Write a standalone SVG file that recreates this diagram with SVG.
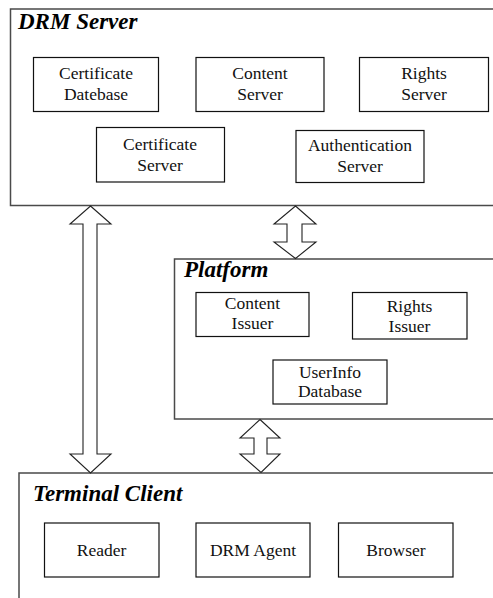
<svg xmlns="http://www.w3.org/2000/svg" width="493" height="598" viewBox="0 0 493 598">
<style>
text{font-family:'Liberation Serif',serif}
.outer{fill:#fff;stroke:#4a4a4a;stroke-width:1.5}
.box{fill:#fff;stroke:#111;stroke-width:1.2}
.title{font-weight:bold;font-style:italic;font-size:23px;fill:#000}
.lbl{font-size:17.5px;fill:#111;text-anchor:middle}
.arrow{fill:#fff;stroke:#222;stroke-width:1.1;stroke-linejoin:miter}
</style>
<rect x="0" y="0" width="493" height="598" fill="#fff"/>
<g id="drm-server">
<rect class="outer" x="10.5" y="9" width="500" height="196.5"/>
<text class="title" font-family="Liberation Serif, serif" x="18" y="29">DRM Server</text>
</g>
<g id="certificate-datebase">
<rect class="box" x="33.5" y="57.5" width="125" height="54"/>
<text class="lbl" font-family="Liberation Serif, serif" x="96" y="79">Certificate</text>
<text class="lbl" font-family="Liberation Serif, serif" x="96" y="100">Datebase</text>
</g>
<g id="content-server">
<rect class="box" x="196" y="57.5" width="128" height="54"/>
<text class="lbl" font-family="Liberation Serif, serif" x="260" y="79">Content</text>
<text class="lbl" font-family="Liberation Serif, serif" x="260" y="100">Server</text>
</g>
<g id="rights-server">
<rect class="box" x="359.5" y="57.5" width="129" height="54"/>
<text class="lbl" font-family="Liberation Serif, serif" x="424" y="79">Rights</text>
<text class="lbl" font-family="Liberation Serif, serif" x="424" y="100">Server</text>
</g>
<g id="certificate-server">
<rect class="box" x="96.5" y="127.5" width="128" height="54.5"/>
<text class="lbl" font-family="Liberation Serif, serif" x="160" y="150">Certificate</text>
<text class="lbl" font-family="Liberation Serif, serif" x="160" y="171">Server</text>
</g>
<g id="authentication-server">
<rect class="box" x="296" y="130.5" width="128" height="52"/>
<text class="lbl" font-family="Liberation Serif, serif" x="360" y="151">Authentication</text>
<text class="lbl" font-family="Liberation Serif, serif" x="360" y="172">Server</text>
</g>
<g id="platform">
<rect class="outer" x="174.5" y="259" width="330" height="160"/>
<text class="title" font-family="Liberation Serif, serif" x="184" y="277">Platform</text>
</g>
<g id="content-issuer">
<rect class="box" x="196" y="292.5" width="113" height="44"/>
<text class="lbl" font-family="Liberation Serif, serif" x="252.5" y="309">Content</text>
<text class="lbl" font-family="Liberation Serif, serif" x="252.5" y="329">Issuer</text>
</g>
<g id="rights-issuer">
<rect class="box" x="352.5" y="292.5" width="114.5" height="46.5"/>
<text class="lbl" font-family="Liberation Serif, serif" x="409.5" y="312">Rights</text>
<text class="lbl" font-family="Liberation Serif, serif" x="409.5" y="332">Issuer</text>
</g>
<g id="userinfo-database">
<rect class="box" x="273" y="360" width="114" height="44"/>
<text class="lbl" font-family="Liberation Serif, serif" x="330" y="378">UserInfo</text>
<text class="lbl" font-family="Liberation Serif, serif" x="330" y="397">Database</text>
</g>
<g id="terminal-client">
<rect class="outer" x="19" y="473" width="490" height="140"/>
<text class="title" font-family="Liberation Serif, serif" x="33" y="501">Terminal Client</text>
</g>
<g id="reader">
<rect class="box" x="44.5" y="523" width="114.5" height="54"/>
<text class="lbl" font-family="Liberation Serif, serif" x="101.5" y="556">Reader</text>
</g>
<g id="drm-agent">
<rect class="box" x="196" y="523" width="114" height="54"/>
<text class="lbl" font-family="Liberation Serif, serif" x="253" y="556">DRM Agent</text>
</g>
<g id="browser">
<rect class="box" x="338.5" y="523" width="114.5" height="54"/>
<text class="lbl" font-family="Liberation Serif, serif" x="396" y="556">Browser</text>
</g>
<g id="connectors">
<path class="arrow" d="M90.5,206 L111,224 L97,224 L97,454 L111,454 L90.5,473 L70,454 L83,454 L83,224 L70,224 Z"/>
<path class="arrow" d="M295.5,206 L316,224 L302,224 L302,242 L316,242 L295.5,258.5 L274,242 L287,242 L287,224 L274,224 Z"/>
<path class="arrow" d="M260,419.5 L280,438 L267,438 L267,454 L280,454 L261,472.5 L240,454 L254,454 L254,438 L240,438 Z"/>
</g>
</svg>
